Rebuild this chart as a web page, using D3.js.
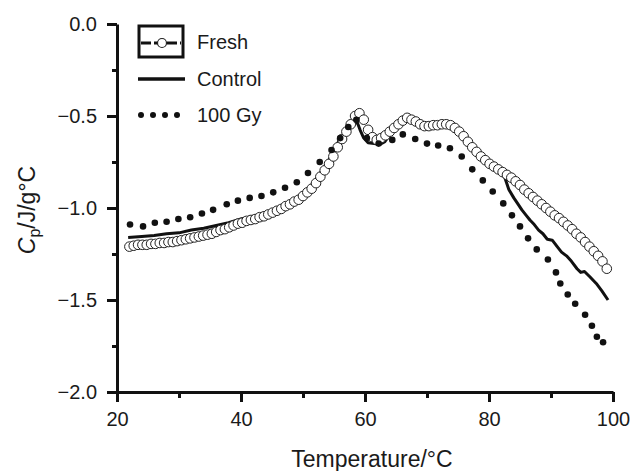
<!DOCTYPE html>
<html>
<head>
<meta charset="utf-8">
<script src="https://cdn.jsdelivr.net/npm/d3@7"></script>
<style>
  body { margin: 0; background: #fff; }
  svg text { font-family: "Liberation Sans", Arial, Helvetica, sans-serif; fill: #1a1a1a; }
</style>
</head>
<body>
<div id="chart"></div>
<script>
const width = 632;
const height = 471;

// Fresh (open circles): [temperature, Cp]
const fresh = [
  [22.0,-1.21],[22.7,-1.205],[23.4,-1.20],[24.1,-1.20],[24.8,-1.20],[25.5,-1.195],[26.2,-1.195],
  [26.9,-1.19],[27.6,-1.19],[28.3,-1.185],[29.0,-1.185],[29.7,-1.18],[30.4,-1.175],[31.1,-1.17],
  [31.8,-1.165],[32.5,-1.16],[33.2,-1.155],[33.9,-1.15],[34.6,-1.145],[35.3,-1.14],[36.0,-1.13],
  [36.7,-1.12],[37.4,-1.115],[38.1,-1.105],[38.8,-1.095],[39.5,-1.085],[40.2,-1.08],[40.9,-1.07],
  [41.6,-1.065],[42.3,-1.06],[43.0,-1.05],[43.7,-1.045],[44.4,-1.035],[45.1,-1.025],[45.8,-1.015],
  [46.5,-1.005],[47.2,-0.99],[47.9,-0.98],[48.6,-0.965],[49.3,-0.955],[50.0,-0.935],[50.7,-0.915],
  [51.4,-0.895],[52.1,-0.865],[52.8,-0.83],[53.5,-0.795],[54.2,-0.76],[54.9,-0.72],[55.6,-0.67],
  [56.3,-0.625],[57.0,-0.585],[57.7,-0.545],[58.4,-0.50],[59.1,-0.485],[59.8,-0.52],[60.5,-0.575],
  [61.2,-0.615],[61.9,-0.63],[62.6,-0.62],[63.3,-0.605],[64.0,-0.585],[64.7,-0.565],[65.4,-0.545],
  [66.1,-0.525],[66.8,-0.51],[67.5,-0.52],[68.2,-0.53],[68.9,-0.545],[69.6,-0.555],[70.3,-0.555],
  [71.0,-0.55],[71.7,-0.55],[72.4,-0.545],[73.1,-0.545],[73.8,-0.55],[74.5,-0.565],[75.2,-0.585],
  [75.9,-0.61],[76.6,-0.64],[77.3,-0.67],[78.0,-0.695],[78.7,-0.72],[79.4,-0.74],[80.1,-0.76],
  [80.8,-0.775],[81.5,-0.79],[82.2,-0.805],[82.9,-0.82],[83.6,-0.835],[84.3,-0.855],[85.0,-0.875],
  [85.7,-0.90],[86.4,-0.92],[87.1,-0.94],[87.8,-0.96],[88.5,-0.98],[89.2,-1.00],[89.9,-1.02],
  [90.6,-1.04],[91.3,-1.055],[92.0,-1.075],[92.7,-1.095],[93.4,-1.115],[94.1,-1.14],[94.8,-1.16],
  [95.5,-1.185],[96.2,-1.21],[96.9,-1.235],[97.6,-1.26],[98.3,-1.29],[99.0,-1.33]
];

// Control (solid line)
const control = [
  [21.8,-1.16],[24,-1.155],[26,-1.15],[28,-1.14],[30,-1.135],[32,-1.12],[34,-1.11],[36,-1.095],
  [38,-1.08],[40,-1.06],[42,-1.045],[44,-1.035],[46,-1.01],[48,-0.975],[50,-0.93],[52,-0.85],
  [54,-0.75],[55,-0.69],[56,-0.62],[57,-0.585],[58,-0.555],[58.7,-0.53],[59.2,-0.575],[59.8,-0.62],
  [60.5,-0.645],[61.5,-0.65],[62.4,-0.655],[63.2,-0.64],[64,-0.60],[65,-0.565],[66,-0.535],
  [67,-0.52],[68,-0.53],[69,-0.545],[70,-0.555],[72,-0.55],[74,-0.555],[75,-0.58],[76,-0.625],
  [77,-0.66],[78,-0.695],[79,-0.72],[80,-0.755],[81,-0.78],[82,-0.80],[82.6,-0.84],[83.2,-0.90],
  [84,-0.945],[84.6,-0.975],[85.3,-1.01],[86,-1.04],[86.6,-1.065],[87.3,-1.09],[88,-1.12],
  [88.7,-1.14],[89.4,-1.17],[90.2,-1.175],[91,-1.21],[91.7,-1.24],[92.5,-1.26],[93.3,-1.29],
  [94.2,-1.33],[94.8,-1.35],[95.4,-1.345],[96.3,-1.375],[97.3,-1.41],[98.2,-1.45],[99.2,-1.50]
];

// 100 Gy (dotted)
const gy100 = [
  [22.1,-1.09],[24.2,-1.10],[26.1,-1.08],[28.0,-1.075],[29.9,-1.06],[31.8,-1.05],[33.7,-1.03],
  [35.5,-1.01],[37.7,-0.98],[39.5,-0.96],[41.4,-0.945],[43.3,-0.935],[45.2,-0.915],[47.1,-0.89],
  [49.0,-0.86],[50.8,-0.81],[52.7,-0.75],[54.6,-0.685],[56.0,-0.62],[57.3,-0.56],[58.6,-0.52],
  [60.3,-0.62],[62.2,-0.65],[64.4,-0.63],[66.1,-0.60],[68.1,-0.625],[70.0,-0.65],[71.8,-0.66],
  [73.7,-0.675],[75.6,-0.72],[77.3,-0.79],[79.0,-0.85],[80.6,-0.91],[82.3,-0.975],[83.7,-1.04],
  [85.0,-1.10],[86.3,-1.165],[87.7,-1.225],[89.5,-1.28],[90.8,-1.35],[91.5,-1.41],[92.7,-1.47],
  [93.9,-1.52],[95.5,-1.58],[96.6,-1.64],[97.4,-1.70],[98.4,-1.73]
];

const xMajor = [20, 40, 60, 80, 100];
const xMinor = [30, 50, 70, 90];
const yMajor = [0, -0.5, -1.0, -1.5, -2.0];
const yMinor = [-0.25, -0.75, -1.25, -1.75];

const svg = d3.select("#chart")
    .append("svg")
    .attr("width", width)
    .attr("height", height)

const x = d3.scaleLinear().domain([20, 100]).range([117, 613]);
const y = d3.scaleLinear().domain([-2, 0]).range([392, 24]);

// axes
const yAxis = svg.append("g")
    .attr("transform", "translate(117,0)")
    .call(d3.axisLeft(y).tickValues(yMajor).tickSize(10).tickSizeOuter(0).tickPadding(10).tickFormat(d3.format(".1f")));
svg.append("g")
    .attr("transform", "translate(117,0)")
    .call(d3.axisLeft(y).tickValues(yMinor).tickSize(5).tickSizeOuter(0).tickFormat(""))
    .select(".domain").remove();

const xAxis = svg.append("g")
    .attr("transform", "translate(0,392)")
    .call(d3.axisBottom(x).tickValues(xMajor).tickSize(10).tickSizeOuter(0).tickPadding(10).tickFormat(d3.format("d")));
svg.append("g")
    .attr("transform", "translate(0,392)")
    .call(d3.axisBottom(x).tickValues(xMinor).tickSize(6).tickSizeOuter(0).tickFormat(""))
    .select(".domain").remove();

svg.selectAll(".domain, .tick line")
    .attr("stroke", "#111")
    .attr("stroke-width", 3);
svg.selectAll(".tick text")
    .attr("font-size", 20)
    .attr("font-family", "Liberation Sans, Arial, sans-serif");

// axis titles
svg.append("text")
    .attr("x", 372)
    .attr("y", 467)
    .attr("text-anchor", "middle")
    .attr("font-size", 23)
    .text("Temperature/°C");

const yTitle = svg.append("text")
    .attr("transform", "translate(35,210) rotate(-90)")
    .attr("text-anchor", "middle")
    .attr("font-size", 23);
yTitle.append("tspan").attr("font-style", "italic").text("C");
yTitle.append("tspan").attr("font-size", 16).attr("dy", 5).text("p");
yTitle.append("tspan").attr("dy", -5).text("/J/g°C");

// control line (under the circles)
const line = d3.line().x(d => x(d[0])).y(d => y(d[1]));
svg.append("path")
    .datum(control)
    .attr("d", line)
    .attr("fill", "none")
    .attr("stroke", "#111")
    .attr("stroke-width", 3)
    .attr("stroke-linejoin", "round");

// fresh circles
svg.append("g").selectAll("circle")
    .data(fresh)
    .enter().append("circle")
    .attr("cx", d => x(d[0]))
    .attr("cy", d => y(d[1]))
    .attr("r", 4.8)
    .attr("fill", "#fff")
    .attr("stroke", "#222")
    .attr("stroke-width", 1);

// 100 Gy dots
svg.append("g").selectAll("circle")
    .data(gy100)
    .enter().append("circle")
    .attr("cx", d => x(d[0]))
    .attr("cy", d => y(d[1]))
    .attr("r", 3.3)
    .attr("fill", "#111");

// legend
const legend = svg.append("g");
legend.append("rect")
    .attr("x", 139).attr("y", 26).attr("width", 44).attr("height", 31)
    .attr("fill", "none").attr("stroke", "#111").attr("stroke-width", 3);
legend.append("line")
    .attr("x1", 141).attr("x2", 181).attr("y1", 43).attr("y2", 43)
    .attr("stroke", "#111").attr("stroke-width", 3)
    .attr("stroke-dasharray", "10,3");
legend.append("circle")
    .attr("cx", 162).attr("cy", 43).attr("r", 4.5)
    .attr("fill", "#fff").attr("stroke", "#222").attr("stroke-width", 1.2);
legend.append("line")
    .attr("x1", 138).attr("x2", 185).attr("y1", 79).attr("y2", 79)
    .attr("stroke", "#111").attr("stroke-width", 3.5);
legend.selectAll(".ldot")
    .data([141, 153, 165, 177])
    .enter().append("circle")
    .attr("cx", d => d).attr("cy", 115).attr("r", 3)
    .attr("fill", "#111");

const labels = ["Fresh", "Control", "100 Gy"];
const labelY = [49, 86, 122];
legend.selectAll(".ltext")
    .data(labels)
    .enter().append("text")
    .attr("x", 197)
    .attr("y", (d, i) => labelY[i])
    .attr("font-size", 20)
    .text(d => d);
</script>
</body>
</html>
